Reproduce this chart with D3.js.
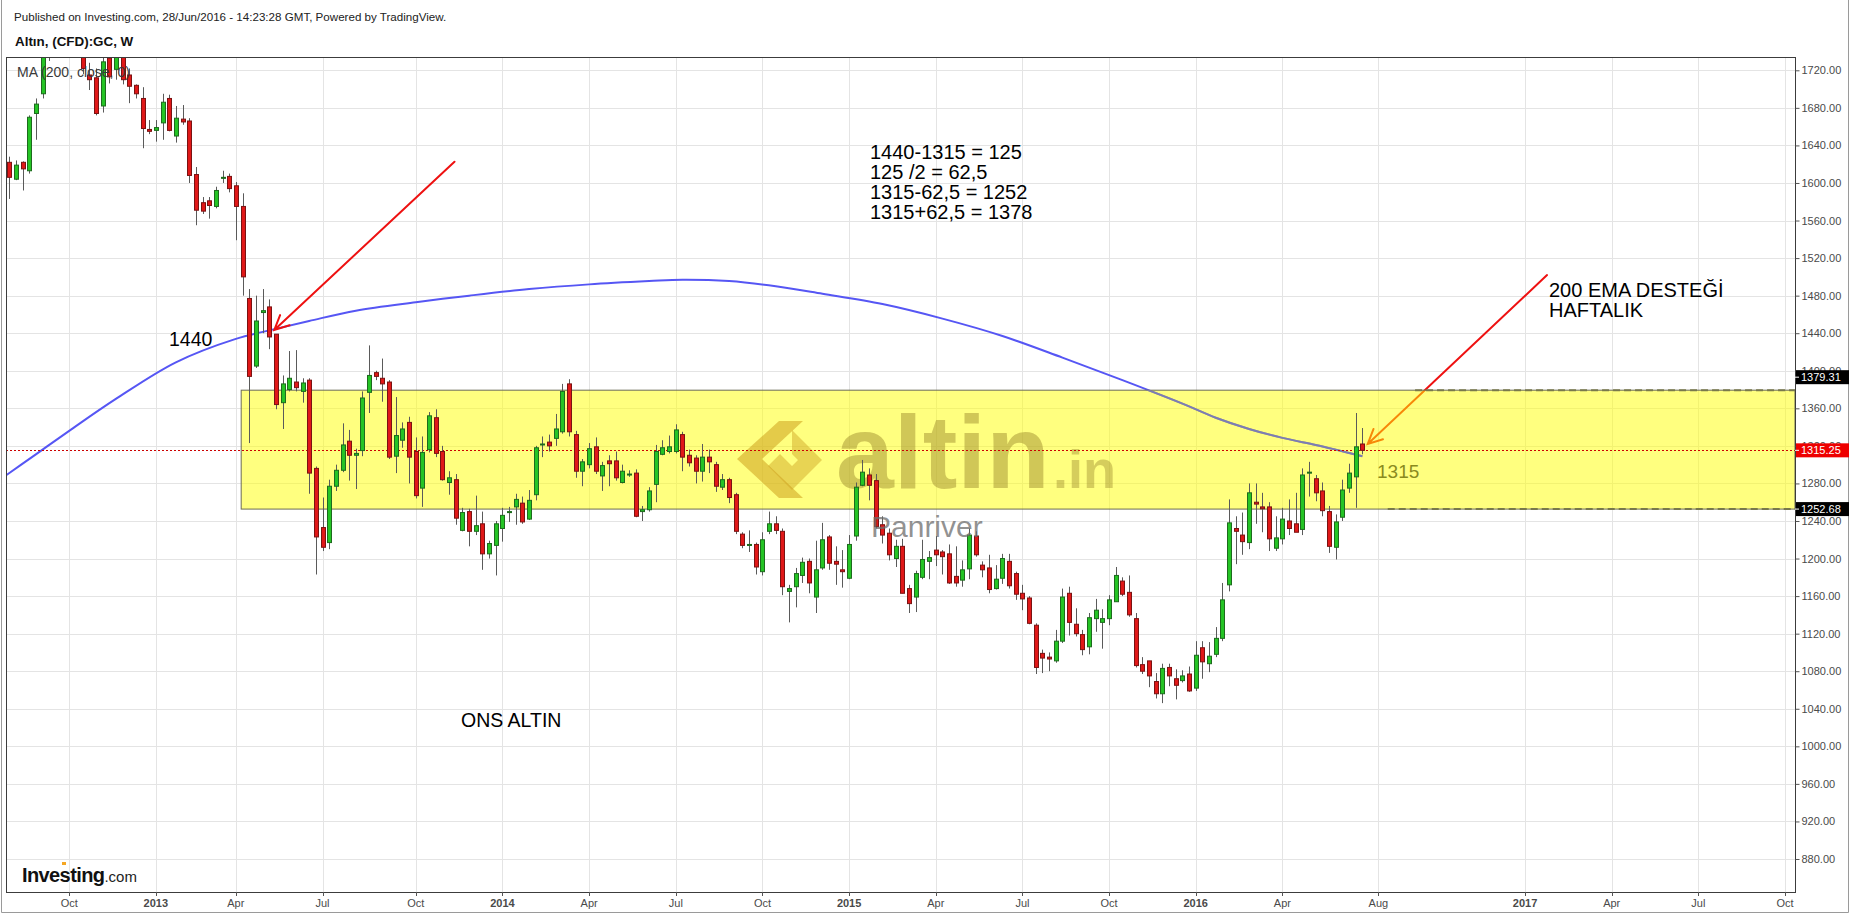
<!DOCTYPE html>
<html><head><meta charset="utf-8">
<script src="https://cdn.jsdelivr.net/npm/d3@7/dist/d3.min.js"></script>
<style>
html,body{margin:0;padding:0;background:#fff;}
svg{display:block;font-family:Arial,"Liberation Sans",Helvetica,sans-serif;}
</style></head><body>
<svg id="chart" width="1851" height="916"></svg>
<script>
// ---------------- DATA (weekly candles, GC CFD) ----------------
const firstWeek = "2012-07-30";
const skippedWeeks = ["2012-12-31"];
const opens = [1622,1604,1622,1613,1674,1695,1737,1772,1775,1773,1781,1759,1715,1712,1682,1733,1721,1751,1715,1704,
1690,1657,1656,1664,1690,1650,1668,1666,1609,1579,1581,1575,1605,1607,1597,1575,1477,1405,1462,1468,
1439,1366,1380,1388,1378,1390,1296,1233,1217,1277,1294,1325,1310,1315,1377,1398,1392,1388,1309,1326,
1345,1314,1275,1316,1350,1314,1281,1284,1230,1250,1229,1237,1205,1214,1232,1249,1255,1259,1242,1268,
1321,1324,1328,1335,1386,1332,1293,1300,1319,1288,1304,1304,1281,1290,1291,1250,1252,1279,1311,1314,
1314,1332,1310,1307,1293,1308,1300,1276,1284,1268,1226,1214,1215,1186,1229,1237,1229,1165,1170,1182,
1197,1159,1190,1223,1197,1188,1179,1224,1278,1289,1283,1236,1227,1200,1213,1168,1159,1180,1197,1209,
1207,1205,1181,1177,1189,1224,1193,1190,1168,1179,1197,1184,1163,1158,1129,1099,1095,1091,1112,1163,
1130,1119,1106,1136,1132,1136,1154,1176,1164,1136,1087,1091,1069,1056,1084,1072,1070,1077,1062,1105,
1088,1098,1115,1172,1232,1225,1217,1260,1255,1255,1211,1221,1240,1237,1231,1291,1285,1272,1250,1212,
1244,1275,1287,1322];
const highs = [1628,1624,1623,1672,1690,1742,1778,1790,1789,1797,1788,1760,1728,1722,1737,1737,1756,1756,1722,1705,
1702,1667,1667,1695,1694,1682,1683,1669,1617,1585,1585,1596,1613,1610,1601,1589,1487,1480,1487,1476,
1439,1395,1421,1422,1392,1392,1298,1265,1284,1300,1344,1337,1317,1378,1427,1400,1413,1390,1372,1345,
1351,1329,1330,1356,1359,1320,1293,1290,1254,1253,1267,1250,1219,1240,1254,1255,1269,1266,1273,1320,
1330,1332,1354,1386,1391,1336,1306,1323,1329,1303,1310,1314,1300,1294,1295,1256,1276,1321,1326,1331,
1343,1335,1316,1310,1322,1316,1303,1290,1286,1270,1228,1230,1217,1228,1250,1245,1232,1172,1190,1201,
1200,1219,1238,1225,1213,1209,1225,1281,1305,1296,1290,1245,1232,1220,1221,1172,1187,1220,1208,1224,
1209,1215,1213,1198,1232,1229,1197,1204,1193,1205,1205,1186,1172,1160,1131,1103,1100,1124,1168,1170,
1147,1124,1142,1157,1146,1161,1191,1180,1182,1142,1095,1091,1078,1088,1088,1082,1081,1085,1112,1112,
1111,1127,1174,1263,1245,1249,1280,1280,1270,1260,1245,1254,1263,1270,1296,1303,1289,1281,1256,1247,
1284,1301,1355,1339];
const lows = [1583,1603,1592,1610,1646,1690,1730,1755,1763,1766,1754,1716,1699,1672,1675,1706,1710,1705,1685,1690,
1637,1652,1644,1646,1655,1643,1662,1600,1555,1567,1562,1573,1600,1590,1539,1480,1323,1403,1440,1423,
1359,1338,1378,1378,1366,1269,1183,1208,1210,1272,1292,1283,1274,1309,1355,1390,1367,1306,1291,1318,
1280,1264,1255,1313,1308,1283,1268,1236,1229,1213,1225,1188,1200,1182,1218,1239,1236,1237,1241,1262,
1308,1314,1320,1333,1330,1286,1277,1296,1290,1272,1277,1283,1280,1287,1244,1240,1250,1260,1310,1312,
1312,1293,1298,1280,1282,1291,1271,1273,1259,1226,1211,1207,1183,1182,1226,1226,1161,1132,1148,1174,
1163,1142,1188,1188,1172,1169,1178,1219,1277,1262,1232,1216,1198,1191,1163,1142,1143,1178,1178,1192,
1183,1173,1170,1170,1178,1202,1180,1163,1167,1173,1168,1156,1145,1130,1077,1078,1080,1089,1110,1118,
1117,1097,1098,1122,1104,1129,1154,1160,1138,1084,1077,1063,1051,1046,1064,1050,1068,1058,1059,1072,
1079,1095,1112,1165,1194,1204,1210,1237,1228,1208,1208,1215,1225,1230,1225,1266,1261,1245,1206,1199,
1240,1270,1254,1311];
const closes = [1606,1619,1615,1670,1684,1740,1772,1775,1773,1781,1759,1722,1710,1674,1729,1713,1751,1710,1703,1695,
1658,1655,1659,1686,1656,1669,1665,1608,1571,1570,1576,1592,1606,1594,1575,1500,1394,1453,1464,1436,
1364,1386,1392,1382,1387,1291,1223,1212,1277,1294,1321,1310,1312,1371,1395,1394,1386,1308,1331,1338,
1308,1267,1313,1352,1312,1284,1286,1243,1249,1229,1235,1205,1216,1237,1246,1250,1263,1239,1262,1318,
1322,1320,1338,1378,1335,1293,1303,1317,1293,1299,1301,1286,1293,1290,1245,1252,1272,1314,1318,1319,
1337,1308,1302,1293,1308,1303,1277,1284,1265,1229,1214,1215,1191,1220,1237,1230,1170,1168,1184,1196,
1174,1188,1220,1195,1194,1186,1215,1276,1292,1278,1234,1225,1204,1213,1163,1152,1184,1199,1201,1204,
1202,1174,1174,1188,1225,1204,1188,1167,1178,1200,1171,1162,1157,1131,1084,1094,1093,1112,1159,1132,
1120,1103,1137,1145,1136,1156,1182,1162,1140,1086,1080,1075,1056,1083,1075,1065,1075,1059,1097,1090,
1096,1115,1156,1238,1229,1218,1270,1258,1253,1221,1222,1242,1232,1228,1289,1292,1270,1251,1213,1239,
1273,1291,1319,1315.25];

// 200-period moving average, read at selected weeks
const maDates = ["2012-07-23","2012-08-27","2012-10-01","2012-11-19","2013-01-28","2013-04-01","2013-05-06","2013-06-17",
"2013-08-05","2013-10-07","2013-12-02","2014-02-03","2014-04-07","2014-06-09","2014-07-14","2014-09-01","2014-10-20",
"2014-12-08","2015-02-09","2015-04-13","2015-06-15","2015-08-17","2015-10-19","2015-12-21","2016-01-25","2016-02-29",
"2016-04-04","2016-05-09","2016-05-30","2016-06-27"];
const maValues = [1286,1311,1336,1370,1409,1434,1443,1453,1464,1473,1480,1487,1492,1495.5,1497,1495.5,1490,
1482,1471,1455.5,1437,1414,1390,1365,1350,1338,1328.5,1321,1316,1309];

const yTickValues = [880,920,960,1000,1040,1080,1120,1160,1200,1240,1280,1320,1360,1400,1440,1480,1520,1560,1600,1640,1680,1720];
const xTickDates = ["2012-10-01","2013-01-01","2013-04-01","2013-07-01","2013-10-01","2014-01-01","2014-04-01","2014-07-01",
"2014-10-01","2015-01-01","2015-04-01","2015-07-01","2015-10-01","2016-01-01","2016-04-01","2016-08-01","2017-01-01",
"2017-04-01","2017-07-01","2017-10-01"];
const xTickLabels = ["Oct","2013","Apr","Jul","Oct","2014","Apr","Jul","Oct","2015","Apr","Jul","Oct","2016","Apr","Aug","2017","Apr","Jul","Oct"];

const zoneLow = 1252.68, zoneHigh = 1379.31, lastPrice = 1315.25;
const annotationTexts = ["1440-1315 = 125","125 /2 = 62,5","1315-62,5 = 1252","1315+62,5 = 1378"];

// ---------------- LAYOUT ----------------
const svg = d3.select("#chart");
const plot = {left:6, top:57, right:1795, bottom:892};
const DAY = 864e5, WEEK = 7*DAY;
const futureShift = 2.6; // bars

const dates = [];
{ let d = new Date(firstWeek+"T00:00:00Z");
  while (dates.length < closes.length) {
    const s = d.toISOString().slice(0,10);
    if (!skippedWeeks.includes(s)) dates.push(new Date(d));
    d = new Date(d.getTime()+WEEK);
  } }
const lastIdx = closes.length-1;
function idxOf(date){
  const t = date.getTime();
  if (t < dates[0].getTime()) return (t-dates[0].getTime())/WEEK;
  if (t > dates[lastIdx].getTime()) return lastIdx + (t-dates[lastIdx].getTime())/WEEK;
  const k = d3.bisector(d=>d.getTime()).left(dates, t);
  if (dates[k].getTime()===t) return k;
  return k-1 + (t-dates[k-1].getTime())/(dates[k].getTime()-dates[k-1].getTime());
}
function tickIdx(date){
  const t = date.getTime();
  if (t <= dates[lastIdx].getTime()) return d3.bisector(d=>d.getTime()).left(dates, t);
  return lastIdx + Math.ceil((t-dates[lastIdx].getTime())/WEEK) - futureShift;
}

const x = d3.scaleLinear().domain([0, lastIdx]).range([9.2, 1362.4]);
const y = d3.scaleLinear().domain([880, 1720]).range([859, 70.3]);

svg.append("path").attr("d","M1.5,0 V912.5 H1848.5 V0").attr("fill","none").attr("stroke","#9a9a9a");

const defs = svg.append("defs");
defs.append("clipPath").attr("id","clip").append("rect")
  .attr("x",plot.left).attr("y",plot.top).attr("width",plot.right-plot.left).attr("height",plot.bottom-plot.top);
const zoneStartIdx = 34.8;
defs.append("clipPath").attr("id","zoneclip").append("rect")
  .attr("x",x(zoneStartIdx)).attr("y",y(zoneHigh)).attr("width",plot.right-x(zoneStartIdx)).attr("height",y(zoneLow)-y(zoneHigh));

// gridlines
const grid = svg.append("g");
const xTicks = xTickDates.map((s,i)=>({label:xTickLabels[i], year:/^\d{4}$/.test(xTickLabels[i]), idx:tickIdx(new Date(s+"T00:00:00Z"))}));
grid.selectAll("line.v").data(xTicks).join("line")
  .attr("x1",d=>Math.round(x(d.idx))+0.5).attr("x2",d=>Math.round(x(d.idx))+0.5)
  .attr("y1",plot.top).attr("y2",plot.bottom).attr("stroke","#e4e4e4").attr("stroke-width",1);
grid.selectAll("line.h").data(yTickValues).join("line")
  .attr("x1",plot.left).attr("x2",plot.right)
  .attr("y1",d=>Math.round(y(d))+0.5).attr("y2",d=>Math.round(y(d))+0.5).attr("stroke","#e4e4e4").attr("stroke-width",1);

const pg = svg.append("g").attr("clip-path","url(#clip)");

// MA line
const maPts = maDates.map((s,i)=>({idx:idxOf(new Date(s+"T00:00:00Z")), v:maValues[i]}));
const maLine = d3.line().x(d=>x(d.idx)).y(d=>y(d.v)).curve(d3.curveCatmullRom.alpha(0.5));
pg.append("path").datum(maPts).attr("d", maLine)
  .attr("fill","none").attr("stroke","#5656f4").attr("stroke-width",2);

// arrows
const arrows = [
  {from:[66.8,1622.6], to:[39.77,1443.4]},
  {from:[230.7,1501.9], to:[203.8,1322.0]}
];
arrows.forEach(a=>{
  const x1=x(a.from[0]), y1=y(a.from[1]), x2=x(a.to[0]), y2=y(a.to[1]);
  const ang = Math.atan2(y2-y1, x2-x1), L=16, sp=0.45;
  const p = d3.path();
  p.moveTo(x1,y1); p.lineTo(x2,y2);
  p.moveTo(x2-L*Math.cos(ang-sp), y2-L*Math.sin(ang-sp)); p.lineTo(x2,y2);
  p.lineTo(x2-L*Math.cos(ang+sp), y2-L*Math.sin(ang+sp));
  pg.append("path").attr("d",p.toString()).attr("fill","none").attr("stroke","#ee1111").attr("stroke-width",2).attr("stroke-linecap","round");
});

// yellow zone
pg.append("rect")
  .attr("x",x(zoneStartIdx)).attr("y",y(zoneHigh)).attr("width",plot.right-x(zoneStartIdx)).attr("height",y(zoneLow)-y(zoneHigh))
  .attr("fill","rgba(255,255,0,0.5)").attr("stroke","#6b6b55").attr("stroke-width",1);

// MA seen through the zone (muted purple-grey)
pg.append("g").attr("clip-path","url(#zoneclip)").append("path").datum(maPts).attr("d", maLine)
  .attr("fill","none").attr("stroke","#7c7cb4").attr("stroke-width",2);

// dashed level lines
[{v:zoneHigh, from:210.9},{v:zoneLow, from:206.8}].forEach(l=>{
  pg.append("line").attr("x1",x(l.from)).attr("x2",plot.right).attr("y1",y(l.v)).attr("y2",y(l.v))
    .attr("stroke","#78784c").attr("stroke-width",2).attr("stroke-dasharray","7,4");
});

// watermark
const wm = pg.append("g");
wm.append("path").attr("d","M737,459 L779,421 L803,421 L762,459 L803,498 L779,498 Z").attr("fill","rgba(205,160,30,0.55)");
wm.append("path").attr("d","M792,430 L822,460 L792,490 L768,466 L780,454 L792,466 L798,460 L792,454 Z").attr("fill","rgba(205,160,30,0.45)");
wm.append("text").attr("x",836).attr("y",488).attr("font-size",104).attr("font-weight","bold").attr("fill","rgba(150,130,40,0.45)").text("altin");
wm.append("text").attr("x",1053).attr("y",488).attr("font-size",54).attr("font-weight","bold").attr("fill","rgba(150,130,40,0.40)").text(".in");

// current price line
pg.append("line").attr("x1",plot.left).attr("x2",plot.right).attr("y1",Math.round(y(lastPrice))+0.5).attr("y2",Math.round(y(lastPrice))+0.5)
  .attr("stroke","#cc0000").attr("stroke-width",1).attr("stroke-dasharray","2,2");

// candles
const bars = closes.map((c,i)=>({i,o:opens[i],h:highs[i],l:lows[i],c}));
const cg = pg.append("g");
cg.selectAll("line.w").data(bars).join("line")
  .attr("x1",d=>Math.round(x(d.i))+0.5).attr("x2",d=>Math.round(x(d.i))+0.5)
  .attr("y1",d=>y(d.h)).attr("y2",d=>y(d.l)).attr("stroke","#5a5a5a").attr("stroke-width",1);
cg.selectAll("rect.b").data(bars).join("rect")
  .attr("x",d=>Math.round(x(d.i))-1.5).attr("width",4)
  .attr("y",d=>y(Math.max(d.o,d.c))).attr("height",d=>Math.max(1,Math.abs(y(d.o)-y(d.c))))
  .attr("fill",d=>d.c>=d.o?"#25c425":"#e01818").attr("stroke",d=>d.c>=d.o?"#1d6b1d":"#7a1212").attr("stroke-width",1);

pg.append("text").attr("x",871).attr("y",537).attr("font-size",30).attr("fill","rgba(110,110,110,0.75)").text("Panriver");

// annotation texts
const at = svg.append("g").attr("fill","#000");
at.selectAll("text.eq").data(annotationTexts).join("text").attr("x",870).attr("y",(d,i)=>159+i*20).attr("font-size",20).text(d=>d);
at.append("text").attr("x",169).attr("y",346).attr("font-size",19.5).text("1440");
at.append("text").attr("x",461).attr("y",727).attr("font-size",19.5).text("ONS ALTIN");
at.append("text").attr("x",1549).attr("y",297).attr("font-size",20).text("200 EMA DESTEĞİ");
at.append("text").attr("x",1549).attr("y",317).attr("font-size",20).text("HAFTALIK");
svg.append("text").attr("x",1377).attr("y",477.5).attr("font-size",19).attr("fill","#8a8a1e").text("1315");

svg.append("text").attr("x",17).attr("y",77).attr("font-size",14).attr("fill","#3a3a3a").text("MA (200, close, 0)");

svg.append("rect").attr("x",plot.left+0.5).attr("y",plot.top+0.5).attr("width",plot.right-plot.left).attr("height",plot.bottom-plot.top)
  .attr("fill","none").attr("stroke","#3c3c3c").attr("stroke-width",1);

// y axis
const yAxis = d3.axisRight(y).tickValues(yTickValues).tickSize(4).tickPadding(2).tickFormat(d3.format(".2f"));
const yg = svg.append("g").attr("transform",`translate(${plot.right+0.5},0)`).call(yAxis);
yg.select(".domain").remove();
yg.selectAll("text").attr("font-size",11).attr("fill","#4a4a4a").attr("font-family","Arial, 'Liberation Sans', sans-serif");
yg.selectAll("line").attr("stroke","#555");

// price tags
const tags = [{v:zoneHigh, dy:-13, bg:"#000"},{v:lastPrice, dy:0, bg:"#ee0000"},{v:zoneLow, dy:0, bg:"#000"}];
tags.forEach(t=>{
  const cy = y(t.v)+t.dy;
  svg.append("rect").attr("x",plot.right+1).attr("y",cy-7).attr("width",53).attr("height",14).attr("fill",t.bg);
  svg.append("line").attr("x1",plot.right).attr("x2",plot.right+4).attr("y1",cy).attr("y2",cy).attr("stroke","#fff");
  svg.append("text").attr("x",plot.right+6).attr("y",cy+4).attr("font-size",11).attr("fill","#fff").text(t.v.toFixed(2));
});

// x axis
const xg = svg.append("g");
xg.selectAll("line").data(xTicks).join("line")
  .attr("x1",d=>Math.round(x(d.idx))+0.5).attr("x2",d=>Math.round(x(d.idx))+0.5)
  .attr("y1",plot.bottom).attr("y2",plot.bottom+4).attr("stroke","#555");
xg.selectAll("text").data(xTicks).join("text")
  .attr("x",d=>x(d.idx)).attr("y",907).attr("text-anchor","middle").attr("font-size",11)
  .attr("font-weight",d=>d.year?"bold":"normal").attr("fill","#4a4a4a").text(d=>d.label);

// header
svg.append("text").attr("x",14).attr("y",21).attr("font-size",11.6).attr("fill","#222").text("Published on Investing.com, 28/Jun/2016 - 14:23:28 GMT, Powered by TradingView.");
svg.append("text").attr("x",15).attr("y",46).attr("font-size",13.4).attr("font-weight","bold").attr("fill","#111").text("Altın, (CFD):GC, W");

// Investing.com logo
const logo = svg.append("text").attr("x",22).attr("y",882);
logo.append("tspan").attr("font-size",20).attr("font-weight","bold").attr("fill","#111").attr("letter-spacing",-0.6).text("Investing");
logo.append("tspan").attr("font-size",15).attr("fill","#222").text(".com");
svg.append("rect").attr("x",62).attr("y",862).attr("width",4).attr("height",3).attr("fill","#f5a623");
</script>
</body></html>
